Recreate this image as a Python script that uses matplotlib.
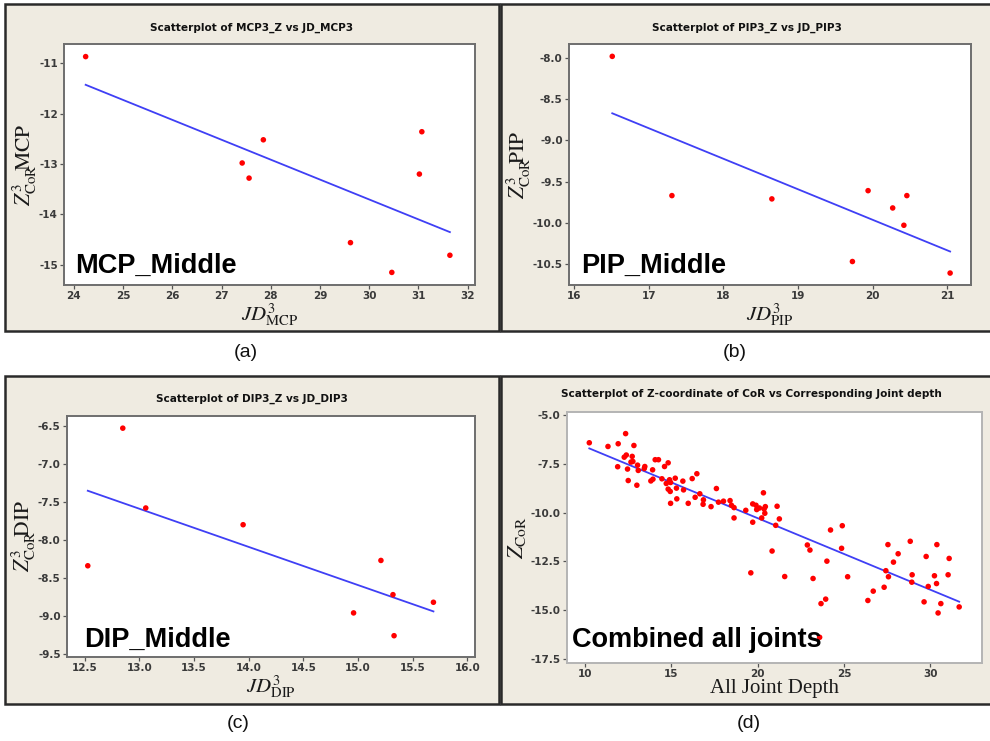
import numpy as np
import matplotlib
matplotlib.use("Agg")
import matplotlib.pyplot as plt
from matplotlib.patches import Rectangle

plt.rcParams["axes.unicode_minus"] = False
plt.rcParams["mathtext.fontset"] = "stix"

# ---- data ---------------------------------------------------------------
mcp_jd = [24.24, 27.42, 27.56, 27.85, 29.62, 30.46, 31.02, 31.07, 31.64]
mcp_z = [-10.87, -12.98, -13.28, -12.52, -14.56, -15.15, -13.20, -12.36, -14.81]

pip_jd = [16.51, 17.31, 18.65, 19.73, 19.94, 20.27, 20.42, 20.46, 21.04]
pip_z = [-7.98, -9.67, -9.71, -10.47, -9.61, -9.82, -10.03, -9.67, -10.61]

dip_jd = [12.53, 12.85, 13.06, 13.95, 14.96, 15.21, 15.32, 15.33, 15.69]
dip_z = [-8.34, -6.53, -7.58, -7.80, -8.96, -8.27, -8.72, -9.26, -8.82]

all_jd = [10.27, 11.35, 11.94, 12.37, 12.85, 11.91, 12.29, 12.41, 12.75, 12.68,
          12.79, 12.48, 13.06, 13.10, 12.52, 13.02, 13.45, 13.48, 13.93, 14.08,
          14.27, 13.83, 13.95, 14.47, 14.62, 14.83, 14.72, 14.91, 14.97, 14.83,
          14.95, 14.97, 15.24, 15.31, 15.33, 15.68, 15.72, 15.99, 16.22, 16.49,
          16.39, 16.66, 16.87, 16.85, 17.31, 17.62, 17.74, 18.03, 18.41, 18.49,
          18.64, 18.64, 19.32, 19.61, 19.72, 19.72, 19.91, 19.95, 20.11, 20.24,
          20.34, 20.38, 20.42, 20.45, 20.84, 21.05, 21.13, 21.26, 21.57, 22.88,
          23.03, 23.21, 23.67, 23.94, 23.59, 24.01, 24.22, 24.86, 24.90, 25.21,
          26.38, 26.69, 27.32, 27.42, 27.57, 27.54, 27.86, 28.13, 28.83, 28.94,
          28.92, 29.63, 29.75, 29.87, 30.23, 30.35, 30.37, 30.44, 30.60, 31.02,
          31.08, 31.66]
all_z = [-6.41, -6.60, -6.46, -5.94, -6.55, -7.64, -7.15, -7.04, -7.11, -7.40,
         -7.37, -7.76, -7.56, -7.83, -8.35, -8.59, -7.73, -7.63, -7.80, -7.28,
         -7.28, -8.37, -8.28, -8.26, -7.63, -7.44, -8.50, -8.31, -8.45, -8.79,
         -8.91, -9.52, -8.23, -8.74, -9.29, -8.38, -8.83, -9.52, -8.25, -8.00,
         -9.21, -9.03, -9.34, -9.57, -9.69, -8.76, -9.46, -9.41, -9.38, -9.62,
         -9.74, -10.27, -9.88, -13.09, -10.49, -9.55, -9.62, -9.84, -9.76, -10.27,
         -8.98, -9.81, -10.03, -9.69, -11.97, -10.65, -9.67, -10.32, -13.28, -11.66,
         -11.92, -13.38, -14.67, -14.44, -16.40, -12.49, -10.89, -11.83, -10.67, -13.29,
         -14.51, -14.03, -13.83, -12.98, -13.29, -11.64, -12.54, -12.11, -11.47, -13.19,
         -13.57, -14.58, -12.25, -13.79, -13.24, -13.64, -11.64, -15.15, -14.67, -13.19,
         -12.35, -14.84]

mcp_xticks = [24, 25, 26, 27, 28, 29, 30, 31, 32]
mcp_yticks = [-11, -12, -13, -14, -15]
pip_xticks = [16, 17, 18, 19, 20, 21]
pip_yticks = [-8.0, -8.5, -9.0, -9.5, -10.0, -10.5]
dip_xticks = [12.5, 13.0, 13.5, 14.0, 14.5, 15.0, 15.5, 16.0]
dip_yticks = [-6.5, -7.0, -7.5, -8.0, -8.5, -9.0, -9.5]
all_xticks = [10, 15, 20, 25, 30]
all_yticks = [-5.0, -7.5, -10.0, -12.5, -15.0, -17.5]

titles = ["Scatterplot of MCP3_Z vs JD_MCP3",
          "Scatterplot of PIP3_Z vs JD_PIP3",
          "Scatterplot of DIP3_Z vs JD_DIP3",
          "Scatterplot of Z-coordinate of CoR vs Corresponding Joint depth"]
tags = ["MCP_Middle", "PIP_Middle", "DIP_Middle", "Combined all joints"]
xlabels = [r"$JD^{3}_{\mathrm{MCP}}$", r"$JD^{3}_{\mathrm{PIP}}$",
           r"$JD^{3}_{\mathrm{DIP}}$", "All Joint Depth"]
ylabels = [r"$Z^{3}_{\mathrm{CoR}}\!\!\mathrm{MCP}$", r"$Z^{3}_{\mathrm{CoR}}\!\!\mathrm{PIP}$",
           r"$Z^{3}_{\mathrm{CoR}}\!\!\mathrm{DIP}$", r"$Z_{\mathrm{CoR}}$"]
letters = ["(a)", "(b)", "(c)", "(d)"]

# ---- layout (pixel boxes on a 990 x 741 canvas) -------------------------
W, H = 990, 741
fig = plt.figure(figsize=(W / 100, H / 100), dpi=100)
fig.patch.set_facecolor("white")

BG = "#efebe1"


def frac_box(x0, y0, x1, y1):
    return [x0 / W, 1 - y1 / H, (x1 - x0) / W, (y1 - y0) / H]


panels = [(5, 4, 499, 331), (501, 4, 993, 331), (5, 376, 499, 704), (501, 376, 993, 704)]
axes_boxes = [(64, 44, 475, 285), (569, 44, 971, 285), (67, 416, 475, 657), (567, 412, 982, 663)]
title_pos = [(252, 28), (747, 28), (252, 399), (751, 394)]
letter_pos = [(246, 352), (735, 352), (238, 723), (749, 723)]
tag_pos = [(0.027, 0.05), (0.03, 0.05), (0.042, 0.044), (0.013, 0.064)]
limits = [((23.8, 32.15), (-15.40, -10.62)),
          ((15.93, 21.32), (-10.755, -7.83)),
          ((12.34, 16.07), (-9.54, -6.37)),
          ((8.98, 32.98), (-17.72, -4.83))]
ytick_fmt = ["{:.0f}", "{:.1f}", "{:.1f}", "{:.1f}"]
xtick_fmt = ["{:.0f}", "{:.0f}", "{:.1f}", "{:.0f}"]
spine_colors = ["#6e6e6e", "#6e6e6e", "#6e6e6e", "#b4b4b4"]

datasets = [(mcp_jd, mcp_z, mcp_xticks, mcp_yticks),
            (pip_jd, pip_z, pip_xticks, pip_yticks),
            (dip_jd, dip_z, dip_xticks, dip_yticks),
            (all_jd, all_z, all_xticks, all_yticks)]

# panel backgrounds live in a full-canvas axes underneath everything
bg_ax = fig.add_axes([0, 0, 1, 1], zorder=-5)
bg_ax.set_xlim(0, W)
bg_ax.set_ylim(H, 0)
bg_ax.axis("off")

for i in range(4):
    x0, y0, x1, y1 = panels[i]
    bg_ax.add_patch(Rectangle((x0, y0), x1 - x0, y1 - y0, facecolor=BG,
                              edgecolor="#2a2a2a", linewidth=1.8))

    ax = fig.add_axes(frac_box(*axes_boxes[i]))
    ax.set_facecolor("white")
    xs, ys, xt, yt = datasets[i]
    xs = np.asarray(xs)
    ys = np.asarray(ys)

    # least-squares fit line across the observed range
    slope, icpt = np.polyfit(xs, ys, 1)
    xl = np.array([xs.min(), xs.max()])
    ax.plot(xl, slope * xl + icpt, color="#3f3ff5", linewidth=1.3, zorder=2)
    ax.scatter(xs, ys, s=16, color="#ff0000", edgecolors="none", zorder=3)

    ax.set_xlim(*limits[i][0])
    ax.set_ylim(*limits[i][1])
    ax.set_xticks(xt, [xtick_fmt[i].format(v) for v in xt])
    ax.set_yticks(yt, [ytick_fmt[i].format(v) for v in yt])
    ax.tick_params(direction="out", length=3, width=0.9, colors="#555555",
                   labelsize=7.5, labelcolor="#3a3a3a", pad=1.5)
    for lab in ax.get_xticklabels() + ax.get_yticklabels():
        lab.set_fontweight("bold")
    for sp in ax.spines.values():
        sp.set_color(spine_colors[i])
        sp.set_linewidth(1.4)

    if i < 3:
        ax.set_xlabel(xlabels[i], fontsize=15, labelpad=0, color="#1a1a1a")
        ax.set_ylabel(ylabels[i], fontsize=15.5, labelpad=0, color="#1a1a1a")
    else:
        ax.set_xlabel(xlabels[i], fontsize=15, family="Liberation Serif",
                      labelpad=0, color="#1a1a1a")
        ax.set_ylabel(ylabels[i], fontsize=16, labelpad=2, color="#1a1a1a")

    ax.text(tag_pos[i][0], tag_pos[i][1], tags[i], transform=ax.transAxes,
            fontsize=19.5, fontweight="bold", family="Liberation Sans",
            va="baseline", ha="left", color="black", zorder=4)

    tx, ty = title_pos[i]
    fig.text(tx / W, 1 - ty / H, titles[i], ha="center", va="center",
             fontsize=7.6, fontweight="bold", color="#111111")
    lx, ly = letter_pos[i]
    fig.text(lx / W, 1 - ly / H, letters[i], ha="center", va="center",
             fontsize=14, family="Liberation Sans", color="#111111")

fig.savefig("out.png", dpi=100, facecolor="white")
